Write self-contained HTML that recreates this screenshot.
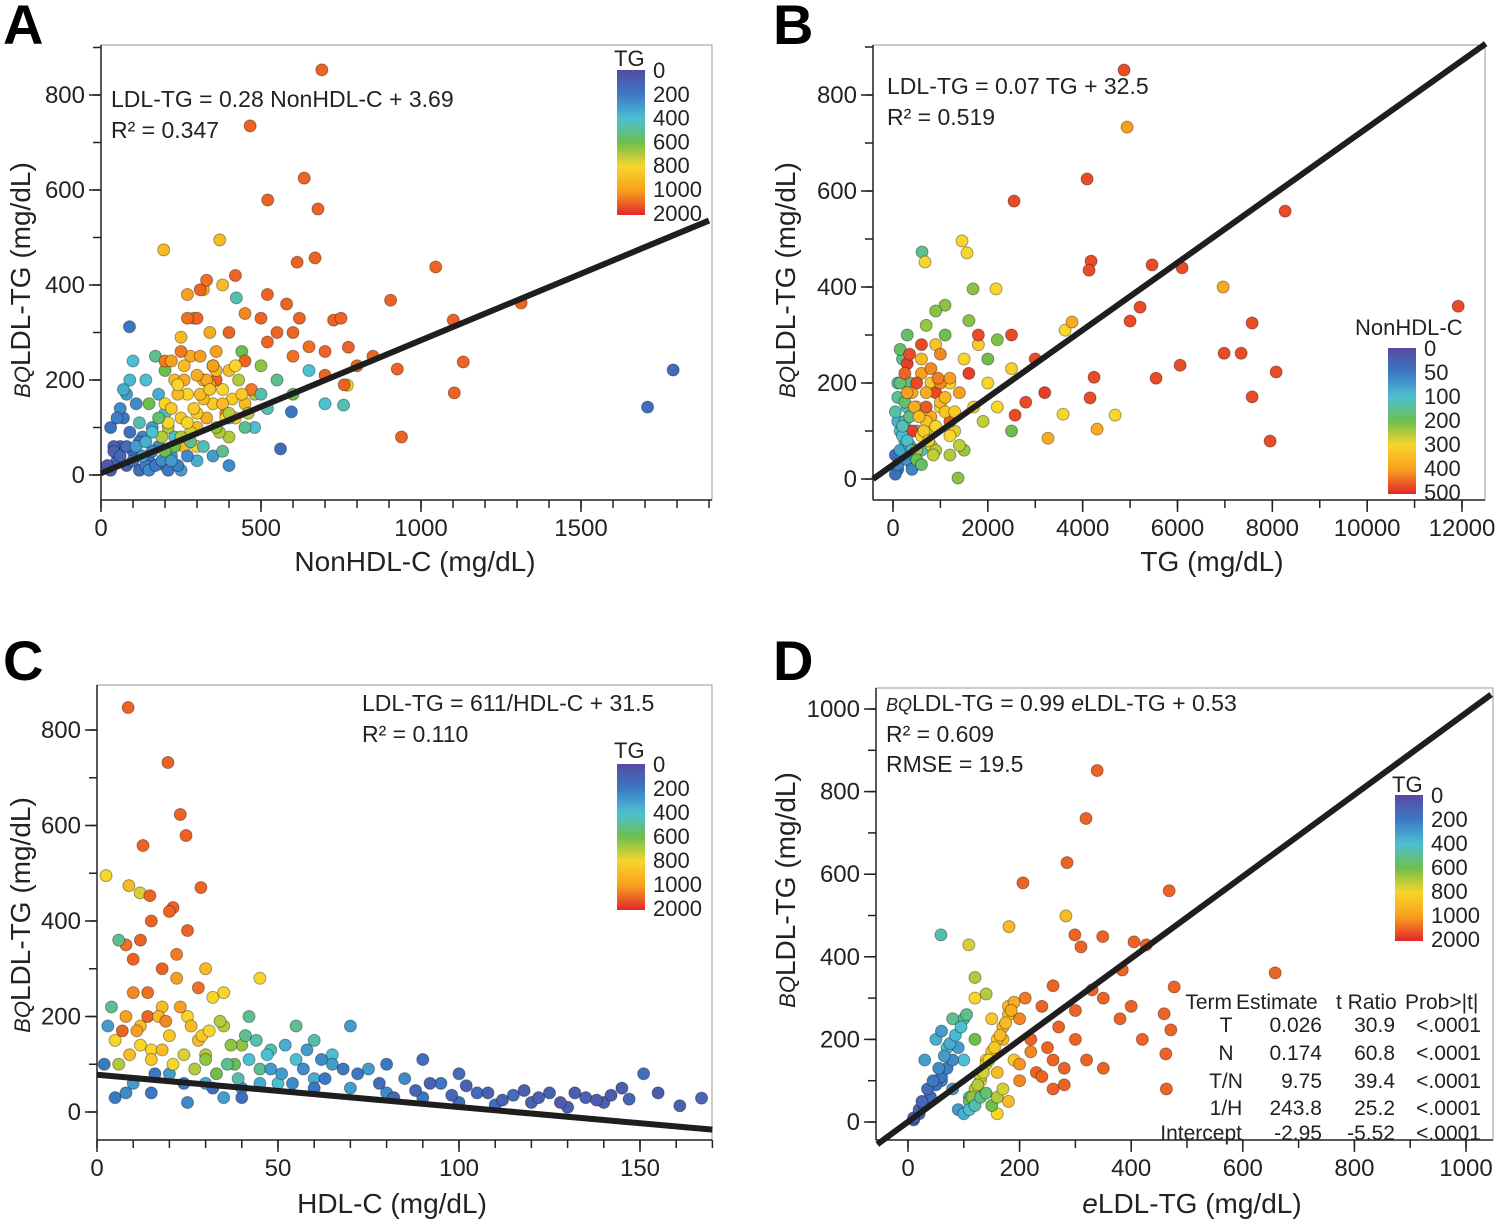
<!DOCTYPE html>
<html><head><meta charset="utf-8"><style>
body{margin:0;background:#fff}
svg{display:block;font-family:"Liberation Sans",Arial,sans-serif}
</style></head><body>
<svg id="fig" width="1500" height="1224" viewBox="0 0 1500 1224"></svg>
<script>
// ---------- Panel A data: NonHDL-C, BQLDL-TG, TG ----------
const xA=[690,466,635,521,678,669,613,1046,905,1313,1101,1132,926,1104,939,1788,1708,371,196,423,770,758,727,773,595,561,89,
30,50,60,80,90,70,100,120,130,150,160,110,80,60,40,180,200,220,250,300,350,400,180,140,100,170,200,230,
200,230,250,270,300,280,320,350,300,260,330,380,400,360,250,290,340,420,400,210,450,430,200,150,320,380,270,440,480,500,480,
300,350,400,270,420,310,360,450,500,550,600,520,600,580,620,650,470,390,330,250,200,520,450,700,750,800,850,760,700,
500,550,600,650,700,450,520,400,380,
20,40,60,80,100,120,140,160,30,50,70,90,110,130,150,170,190,210,240,270,
190,210,220,240,260,280,300,320,340,360,230,250,270,290,310,330,350,370,390,410,
220,260,300,340,380,240,280,320,360,400,180,160,140,120,200,220,420,440,460,310];
const yA=[853,735,625,579,560,457,448,438,368,362,326,238,223,173,80,221,143,495,474,373,189,147,326,269,133,55,312,
10,30,60,20,90,120,50,10,80,30,100,150,170,140,60,60,20,40,10,30,40,20,170,200,240,250,130,80,
150,200,120,170,100,250,200,150,60,60,120,180,220,260,290,330,300,120,80,100,150,200,220,150,390,400,380,260,170,230,100,
330,230,300,330,420,390,200,240,330,300,300,280,250,360,330,270,180,130,410,260,240,380,340,260,330,230,250,190,210,
170,200,170,220,150,100,140,120,50,
20,50,40,60,30,70,20,50,100,120,180,200,60,40,10,20,30,10,20,40,
80,110,140,170,200,90,130,160,190,220,60,80,110,140,170,200,230,90,120,160,
240,230,210,180,150,190,70,60,100,130,120,90,70,110,50,30,230,170,130,250];
const cA=[1500,1500,1500,1500,1500,1500,1500,1500,1500,1500,1500,1500,1500,1500,1500,150,150,900,900,450,800,450,1500,1500,200,150,200,
100,120,150,100,180,200,150,150,250,200,300,250,300,250,100,250,250,300,300,350,300,250,350,400,400,500,400,400,
800,900,850,800,900,950,900,850,800,900,950,800,900,1000,900,1000,950,850,700,700,900,700,600,600,950,900,1000,600,700,650,400,
1500,1500,1500,1400,1500,1500,1500,1500,1500,1500,1500,1500,1400,1500,1500,1400,1300,1200,1400,1300,1300,1500,1200,1500,1500,1500,1500,1500,1500,
450,500,600,400,400,500,450,400,500,
60,100,120,150,180,200,220,250,180,220,350,380,300,320,250,200,250,200,220,250,
700,800,850,900,950,750,850,900,950,900,600,700,800,850,900,950,1000,700,800,850,
1000,900,950,850,900,800,500,450,650,700,550,400,350,450,600,300,800,850,700,1000];
// ---------- Panel B data: TG, BQLDL-TG, NonHDL-C ----------
const xB=[4873,4937,2553,4093,8270,4177,4135,6097,5464,6962,7574,11920,5211,5000,3629,3776,7342,6983,6055,5548,7574,8080,7953,4684,4304,4240,4156,3270,612,1456,675,1561,1097,1688,2173,3586,2574,1371,
100,200,150,300,250,400,100,200,300,50,500,350,150,600,100,
500,800,600,1000,700,1200,900,1500,1300,1700,2000,1800,2200,2500,400,600,800,1000,1400,1900,
1100,1600,2000,2500,1500,1200,2200,900,700,
300,500,700,400,900,1200,600,1600,2500,3000,2800,3200,1800,
50,100,150,200,250,300,350,400,450,50,100,150,200,250,300,350,400,
500,600,700,800,900,1000,1100,1200,500,600,700,800,900,1000,1100,1200,1300,1400,
250,300,350,450,550,650,750,850,950];
const yB=[852,733,579,625,558,454,435,440,446,400,325,360,358,329,310,327,262,262,237,210,171,223,79,133,104,212,169,85,473,496,452,471,362,396,396,135,133,2,
20,50,100,150,80,30,200,250,300,50,100,200,270,60,120,
150,200,250,150,100,200,280,250,100,150,200,280,150,230,180,220,130,260,180,120,
300,330,250,100,60,50,290,350,320,
240,200,150,100,180,120,280,220,300,250,160,180,300,
10,30,60,90,120,40,70,20,50,140,170,200,110,160,80,130,60,
60,90,120,70,110,160,140,90,40,30,180,230,60,200,170,210,140,70,
220,180,260,150,130,100,80,50,210];
const cB=[470,400,470,470,470,470,470,470,470,380,470,470,470,470,300,380,470,470,470,470,470,470,470,300,380,470,470,380,150,300,300,300,220,220,300,300,470,220,
50,80,100,120,90,80,130,150,180,40,120,160,180,110,90,
300,320,350,300,280,300,330,300,280,300,300,320,300,310,380,400,380,420,400,260,
200,220,200,200,230,250,210,220,230,
480,470,460,480,470,450,470,480,470,470,470,480,470,
40,60,80,100,120,70,90,60,80,130,150,170,120,180,110,160,100,
250,300,330,280,300,350,330,300,200,180,380,420,250,420,360,400,320,260,
450,400,470,380,350,320,300,260,430];
// ---------- Panel C data: HDL-C, BQLDL-TG, TG ----------
const xC=[8.6,19.6,23,24.6,12.7,28.7,2.5,8.8,11.9,14.6,21,151,167,161,147,
5,8,10,12,15,18,20,22,25,28,30,32,35,38,40,42,45,48,50,55,60,65,70,75,80,85,90,95,100,105,110,115,120,125,130,135,140,10,5,15,20,25,30,35,40,3,2,10,12,15,18,20,22,25,28,14,8,30,35,45,55,60,65,70,80,90,100,4,6,
6,9,12,15,18,21,24,27,30,33,36,39,42,45,48,51,54,57,60,63,
7,11,14,17,19,23,26,29,31,34,37,41,44,47,52,58,62,68,72,78,
82,88,92,98,102,108,112,118,122,128,132,138,142,145,155,8,16,24,32,40];
const yC=[847,732,623,579,558,470,495,474,459,453,428,80,29,13,27,
150,200,250,180,130,220,160,280,200,150,120,240,180,100,140,200,90,130,60,110,70,120,50,90,40,70,30,60,20,40,15,35,20,40,10,30,20,60,30,40,80,20,60,30,50,180,100,320,360,400,300,420,330,380,260,250,350,300,250,280,180,150,100,180,100,110,80,220,360,
100,120,140,110,130,100,120,90,110,80,100,70,110,60,90,80,60,90,50,70,
170,170,200,200,190,220,180,160,170,190,140,160,150,120,140,130,110,90,80,60,
30,45,60,35,55,40,25,45,30,20,40,25,35,50,40,40,80,60,50,30];
const cC=[1500,1500,1500,1500,1500,1500,800,900,750,1500,1500,150,120,100,120,
800,1000,1200,900,800,900,850,1000,800,900,700,800,700,600,650,500,500,450,400,400,350,400,300,300,250,250,200,200,150,150,150,150,100,100,100,100,100,300,200,200,300,250,350,300,300,300,200,1500,1500,1500,1500,1500,1300,1500,1400,1400,1400,900,800,800,500,450,300,300,200,150,150,500,500,
700,900,800,850,900,800,750,700,650,600,500,450,400,350,300,300,250,250,200,200,
1500,1000,1500,900,1200,1000,900,850,800,700,650,500,450,400,350,300,250,200,200,150,
120,120,100,120,100,100,100,100,100,80,80,80,80,80,80,250,200,200,150,150];
// ---------- Panel D data: eLDL-TG, BQLDL-TG, TG ----------
const xD=[339,319,285,206,468,283,299,310,349,405,477,658,427,384,459,471,462,463,59,109,181,
20,40,60,30,50,80,100,120,100,140,150,170,130,160,180,190,120,200,220,250,240,270,300,280,320,350,300,350,380,200,230,260,180,80,90,70,10,110,160,210,260,330,400,420,140,60,120,
10,20,30,40,50,60,70,80,90,25,35,45,55,65,75,85,95,105,
110,120,130,140,150,160,170,180,190,115,125,135,145,155,165,175,185,
100,110,120,130,140,150,160,170,200,220,240,260,280];
const yD=[851,735,628,579,560,499,453,424,449,436,327,361,429,368,262,223,165,80,453,429,473,
20,60,100,150,200,80,150,200,250,150,250,200,100,120,280,150,300,250,200,180,280,230,200,130,150,130,270,300,250,100,120,80,50,250,30,180,5,60,20,300,330,320,280,200,310,220,350,
10,30,40,60,90,110,130,150,180,50,80,100,130,160,190,210,230,260,
50,80,110,140,170,200,230,260,290,60,90,120,150,180,210,240,270,
20,30,40,60,70,40,60,80,140,170,110,150,90];
const cD=[1500,1500,1500,1500,1500,900,1500,1500,1500,1500,1500,1500,1500,1500,1500,1500,1500,1500,450,750,900,
100,150,250,300,350,300,400,600,500,800,850,900,800,900,900,850,800,1200,1500,1500,1500,1500,1500,1500,1500,1500,1500,1500,1500,1200,1500,1500,900,500,300,400,100,500,800,1300,1500,1500,1500,1500,700,300,700,
80,100,120,150,180,200,220,250,300,120,150,200,250,300,350,380,400,500,
600,700,750,800,850,850,900,900,950,650,700,750,800,850,900,900,950,
350,400,450,500,550,600,700,750,1100,1200,1500,1500,1500];

const NS="http://www.w3.org/2000/svg";
const svg=document.getElementById('fig');
function el(tag,attrs,parent){const e=document.createElementNS(NS,tag);for(const k in attrs)e.setAttribute(k,attrs[k]);(parent||svg).appendChild(e);return e;}
const cols=['#584aa0','#3b78c4','#4cbfd2','#6dbf4d','#f8d52a','#f7a01d','#e3262b'];
function hex(h){return [1,3,5].map(i=>parseInt(h.substr(i,2),16));}
function cmap(v,stops){let i=0;while(i<stops.length-2&&v>stops[i+1])i++;let t=(v-stops[i])/(stops[i+1]-stops[i]);t=Math.max(0,Math.min(1,t));const a=hex(cols[i]),b=hex(cols[i+1]);return 'rgb('+a.map((x,k)=>Math.round(x+(b[k]-x)*t)).join(',')+')';}
const tgStops=[0,200,400,600,800,1000,2000], nhStops=[0,50,100,200,300,400,500];

function txt(x,y,s,size,anchor,parent,name){const t=el('text',{x:x,y:y,'font-size':size,'text-anchor':anchor||'start',fill:'#222'},parent);t.textContent=s;return t;}

function panel(p){
  const g=el('g',{});
  
  
  const sx=v=>p.x0+(v-p.xmin)*(p.x1-p.x0)/(p.xref-p.xmin);
  const sy=v=>p.y0+(v-p.ymin)*(p.y1-p.y0)/(p.yref-p.ymin);
  el('rect',{x:p.L,y:p.T,width:p.R-p.L,height:p.B-p.T,fill:'none',stroke:'#999','stroke-width':1},g);
  el('line',{x1:p.L,y1:p.T,x2:p.L,y2:p.B,stroke:'#222','stroke-width':1.5},g);
  el('line',{x1:p.L,y1:p.B,x2:p.R,y2:p.B,stroke:'#222','stroke-width':1.5},g);
  for(let v=p.xminor0;v<=p.xmax;v+=p.xminor){const X=sx(v);if(X<p.L-1||X>p.R+1)continue;el('line',{x1:X,y1:p.B,x2:X,y2:p.B+8,stroke:'#222','stroke-width':1.5},g);}
  p.xticks.forEach(v=>{const X=sx(v);el('line',{x1:X,y1:p.B,x2:X,y2:p.B+12,stroke:'#222','stroke-width':1.5},g);txt(X,p.B+36,String(v),24,'middle',g,'x-tick-label');});
  for(let v=p.yminor0;v<=p.ymax;v+=p.yminor){const Y=sy(v);if(Y<p.T-1||Y>p.B+1)continue;el('line',{x1:p.L,y1:Y,x2:p.L-8,y2:Y,stroke:'#222','stroke-width':1.5},g);}
  p.yticks.forEach(v=>{const Y=sy(v);el('line',{x1:p.L,y1:Y,x2:p.L-12,y2:Y,stroke:'#222','stroke-width':1.5},g);txt(p.L-16,Y+8,String(v),24,'end',g,'y-tick-label');});
  const pts=el('g',{},g);
  p.xs.forEach((xv,i)=>{const c=el('circle',{cx:sx(xv),cy:sy(p.ys[i]),r:6,fill:cmap(p.cs[i],p.stops),stroke:'rgba(0,0,0,0.35)','stroke-width':1},pts);
    
    });
  const ln=el('line',{x1:sx(p.fit[0][0]),y1:sy(p.fit[0][1]),x2:sx(p.fit[1][0]),y2:sy(p.fit[1][1]),stroke:'#1e1e1e','stroke-width':6},g);
  
  
  return g;
}
function legend(x,y,h,title,labels,tx){
  const g=el('g',{});
  
  
  const id='grad'+x+y;
  const d=el('linearGradient',{id:id,x1:0,y1:0,x2:0,y2:1},el('defs',{},g));
  cols.forEach((c,i)=>el('stop',{offset:(i/6),'stop-color':c},d));
  el('rect',{x:x,y:y,width:28,height:h,fill:'url(#'+id+')'},g);
  txt(tx[0],tx[1],title,22,'start',g,'legend-title');
  labels.forEach((s,i)=>txt(x+36,y+8+i*h/(labels.length-1)*0.985,s,22,'start',g,'legend-label'));
}
function ytitle(x,y){const t=el('text',{x:0,y:0,'font-size':28,'text-anchor':'middle',fill:'#222',transform:'translate('+x+','+y+') rotate(-90)'});
  
  const a=el('tspan',{'font-style':'italic','font-size':22},t);a.textContent='BQ';const b=el('tspan',{},t);b.textContent='LDL-TG (mg/dL)';}

panel({name:'panel-a',L:101,R:712,T:45,B:500,x0:101,x1:261,xmin:0,xref:500,xmax:1900,y0:475,y1:95,ymin:0,yref:800,ymax:900,
 xticks:[0,500,1000,1500],xminor:100,xminor0:0,yticks:[0,200,400,600,800],yminor:100,yminor0:0,
 xs:xA,ys:yA,cs:cA,stops:tgStops,fit:[[0,3.69],[1900,0.28*1900+3.69]]});
panel({name:'panel-b',L:873,R:1485,T:45,B:500,x0:893,x1:1462,xmin:0,xref:12000,xmax:12500,y0:479,y1:95,ymin:0,yref:800,ymax:900,
 xticks:[0,2000,4000,6000,8000,10000,12000],xminor:1000,xminor0:0,yticks:[0,200,400,600,800],yminor:100,yminor0:0,
 xs:xB,ys:yB,cs:cB,stops:nhStops,fit:[[-420,0],[12500,907]]});
panel({name:'panel-c',L:97,R:712,T:685,B:1140,x0:97,x1:640,xmin:0,xref:150,xmax:170,y0:1112,y1:730,ymin:0,yref:800,ymax:900,
 xticks:[0,50,100,150],xminor:10,xminor0:0,yticks:[0,200,400,600,800],yminor:100,yminor0:0,
 xs:xC,ys:yC,cs:cC,stops:tgStops,fit:[[0,78],[170,-37]]});
panel({name:'panel-d',L:876,R:1493,T:688,B:1140,x0:908,x1:1466,xmin:0,xref:1000,xmax:1050,y0:1122,y1:709,ymin:0,yref:1000,ymax:1050,
 xticks:[0,200,400,600,800,1000],xminor:100,xminor0:0,yticks:[0,200,400,600,800,1000],yminor:100,yminor0:0,
 xs:xD,ys:yD,cs:cD,stops:tgStops,fit:[[-55,-54],[1045,1035]]});

const tg=['0','200','400','600','800','1000','2000'];
legend(617,70,145,'TG',tg,[614,66]);
legend(1388,348,146,'NonHDL-C',['0','50','100','200','300','400','500'],[1355,335]);
legend(617,764,146,'TG',tg,[614,758]);
legend(1395,795,146,'TG',tg,[1392,792]);

[['A',3,44],['B',773,44],['C',3,680],['D',773,680]].forEach(a=>{const t=txt(a[1],a[2],a[0],56,'start',svg,'panel-letter');t.setAttribute('font-weight','bold');t.setAttribute('fill','#000');});
ytitle(30,280);ytitle(795,280);ytitle(30,915);ytitle(795,890);
txt(415,571,'NonHDL-C (mg/dL)',28,'middle',svg,'x-axis-title');
txt(1212,571,'TG (mg/dL)',28,'middle',svg,'x-axis-title');
txt(392,1213,'HDL-C (mg/dL)',28,'middle',svg,'x-axis-title');
const xd=txt(1192,1213,'',28,'middle',svg,'x-axis-title');
{const a=el('tspan',{'font-style':'italic'},xd);a.textContent='e';const b=el('tspan',{},xd);b.textContent='LDL-TG (mg/dL)';}

txt(111,107,'LDL-TG = 0.28 NonHDL-C + 3.69',23,'start',svg,'equation');
txt(111,138,'R² = 0.347',23,'start',svg,'r-squared');
txt(887,94,'LDL-TG = 0.07 TG + 32.5',23,'start',svg,'equation');
txt(887,125,'R² = 0.519',23,'start',svg,'r-squared');
txt(362,711,'LDL-TG = 611/HDL-C + 31.5',23,'start',svg,'equation');
txt(362,742,'R² = 0.110',23,'start',svg,'r-squared');
const eqD=txt(886,711,'',23,'start',svg,'equation');
{const a=el('tspan',{'font-style':'italic','font-size':18},eqD);a.textContent='BQ';const b=el('tspan',{},eqD);b.textContent='LDL-TG = 0.99 ';const c=el('tspan',{'font-style':'italic'},eqD);c.textContent='e';const d=el('tspan',{},eqD);d.textContent='LDL-TG + 0.53';}
txt(886,742,'R² = 0.609',23,'start',svg,'r-squared');
txt(886,772,'RMSE = 19.5',23,'start',svg,'rmse');

const rows=[['Term','Estimate','t Ratio','Prob>|t|'],['T','0.026','30.9','<.0001'],['N','0.174','60.8','<.0001'],['T/N','9.75','39.4','<.0001'],['1/H','243.8','25.2','<.0001'],['Intercept','-2.95','-5.52','<.0001']];
const ry=[1009,1032,1060,1088,1115,1140];
rows.forEach((r,i)=>{
  if(i==0){txt(1232,ry[i],r[0],21,'end',svg,'table-header');txt(1236,ry[i],r[1],21,'start',svg,'table-header');txt(1336,ry[i],r[2],21,'start',svg,'table-header');txt(1405,ry[i],r[3],21,'start',svg,'table-header');}
  else{txt(i==5?1242:1226,ry[i],r[0],21,i==5?'end':'middle',svg,'table-term');txt(1322,ry[i],r[1],21,'end',svg,'table-estimate');txt(1395,ry[i],r[2],21,'end',svg,'table-t-ratio');txt(1481,ry[i],r[3],21,'end',svg,'table-prob');}
});
</script>
</body></html>
